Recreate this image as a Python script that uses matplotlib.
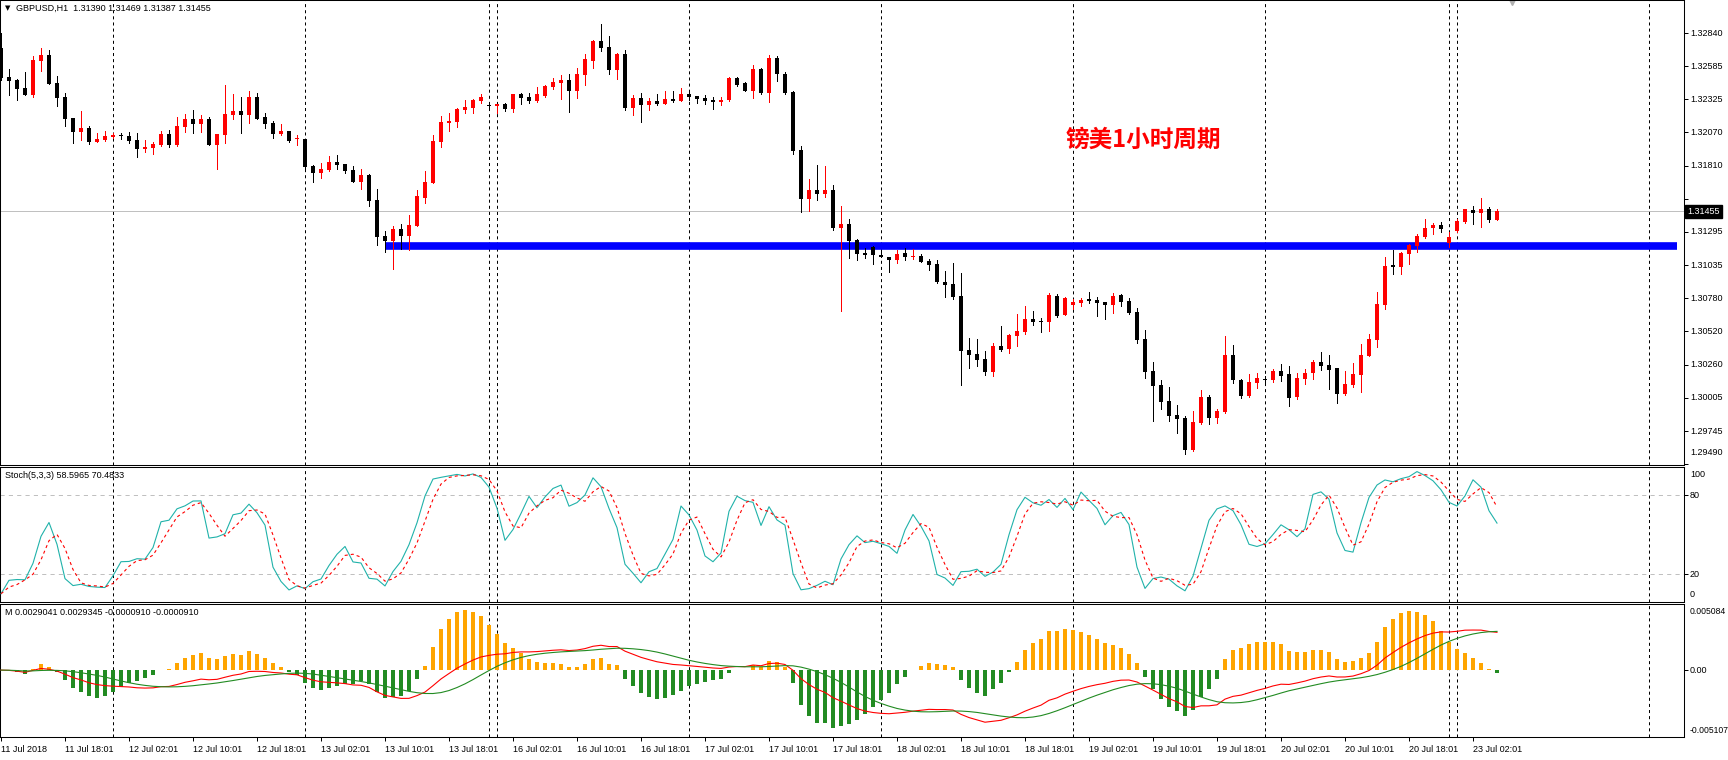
import numpy as np
import pandas as pd
import matplotlib
matplotlib.use("Agg")
import matplotlib.pyplot as plt

plt.rcParams['font.family'] = ['Liberation Sans', 'DejaVu Sans']
plt.rcParams['lines.scale_dashes'] = False
plt.rcParams['axes.linewidth'] = 0.75

# GBPUSD H1, one bar per hour from 11 Jul 2018 10:00 to 23 Jul 2018 05:00 (broker time)
opens = [
    1.32723, 1.32500, 1.32476, 1.32414, 1.32360, 1.32627, 1.32671, 1.32453, 1.32344, 1.32181,
    1.32074, 1.32103, 1.31997, 1.32010, 1.32033, 1.32048, 1.32041, 1.32010, 1.31942, 1.31950,
    1.31971, 1.32056, 1.31971, 1.32113, 1.32173, 1.32137, 1.32173, 1.31973, 1.32051, 1.32207,
    1.32235, 1.32207, 1.32344, 1.32189, 1.32142, 1.32059, 1.32080, 1.32020, 1.32017, 1.31807,
    1.31755, 1.31776, 1.31838, 1.31823, 1.31776, 1.31685, 1.31737, 1.31543, 1.31263, 1.31226,
    1.31317, 1.31265, 1.31343, 1.31561, 1.31678, 1.31997, 1.32145, 1.32152, 1.32246, 1.32261,
    1.32316, 1.32277, 1.32277, 1.32290, 1.32253, 1.32368, 1.32344, 1.32316, 1.32355, 1.32425,
    1.32456, 1.32476, 1.32393, 1.32518, 1.32627, 1.32780, 1.32733, 1.32557, 1.32679, 1.32261,
    1.32336, 1.32285, 1.32313, 1.32292, 1.32331, 1.32316, 1.32368, 1.32352, 1.32336, 1.32323,
    1.32308, 1.32323, 1.32492, 1.32453, 1.32393, 1.32562, 1.32378, 1.32648, 1.32524, 1.32383,
    1.31932, 1.31554, 1.31621, 1.31593, 1.31621, 1.31328, 1.31359, 1.31232, 1.31134, 1.31178,
    1.31115, 1.31100, 1.31079, 1.31131, 1.31100, 1.31108, 1.31071, 1.31045, 1.30908, 1.30890,
    1.30796, 1.30376, 1.30348, 1.30306, 1.30208, 1.30410, 1.30387, 1.30488, 1.30516, 1.30617,
    1.30602, 1.30597, 1.30796, 1.30651, 1.30726, 1.30742, 1.30765, 1.30768, 1.30750, 1.30729,
    1.30804, 1.30760, 1.30672, 1.30461, 1.30212, 1.30104, 1.29979, 1.29870, 1.29847, 1.29600,
    1.29808, 1.30010, 1.29849, 1.29896, 1.30337, 1.30142, 1.30021, 1.30122, 1.30150, 1.30145,
    1.30212, 1.30189, 1.30010, 1.30153, 1.30200, 1.30283, 1.30259, 1.30236, 1.30036, 1.30106,
    1.30184, 1.30332, 1.30456, 1.30729, 1.31037, 1.31024, 1.31125, 1.31188, 1.31258, 1.31328,
    1.31348, 1.31208, 1.31304, 1.31374, 1.31465, 1.31444, 1.31473, 1.31390,
]
highs = [
    1.32839, 1.32562, 1.32484, 1.32539, 1.32663, 1.32725, 1.32712, 1.32507, 1.32375, 1.32183,
    1.32235, 1.32118, 1.32064, 1.32080, 1.32064, 1.32064, 1.32072, 1.32064, 1.32010, 1.31994,
    1.32080, 1.32087, 1.32189, 1.32212, 1.32243, 1.32204, 1.32189, 1.32058, 1.32437, 1.32367,
    1.32344, 1.32391, 1.32375, 1.32220, 1.32157, 1.32134, 1.32082, 1.32048, 1.32020, 1.31815,
    1.31831, 1.31885, 1.31893, 1.31825, 1.31807, 1.31784, 1.31745, 1.31628, 1.31304, 1.31341,
    1.31356, 1.31426, 1.31621, 1.31768, 1.32049, 1.32196, 1.32220, 1.32259, 1.32321, 1.32331,
    1.32368, 1.32290, 1.32290, 1.32298, 1.32370, 1.32373, 1.32375, 1.32422, 1.32435, 1.32492,
    1.32518, 1.32523, 1.32570, 1.32679, 1.32788, 1.32912, 1.32819, 1.32687, 1.32710, 1.32360,
    1.32375, 1.32336, 1.32368, 1.32391, 1.32391, 1.32414, 1.32383, 1.32355, 1.32360, 1.32344,
    1.32344, 1.32500, 1.32503, 1.32461, 1.32596, 1.32570, 1.32671, 1.32664, 1.32539, 1.32391,
    1.31963, 1.31707, 1.31816, 1.31808, 1.31663, 1.31499, 1.31395, 1.31240, 1.31172, 1.31185,
    1.31154, 1.31102, 1.31154, 1.31167, 1.31162, 1.31123, 1.31087, 1.31079, 1.30993, 1.31053,
    1.30975, 1.30472, 1.30462, 1.30369, 1.30428, 1.30566, 1.30503, 1.30656, 1.30719, 1.30680,
    1.30628, 1.30820, 1.30812, 1.30789, 1.30773, 1.30783, 1.30828, 1.30789, 1.30752, 1.30820,
    1.30812, 1.30781, 1.30703, 1.30531, 1.30283, 1.30142, 1.30088, 1.29948, 1.29862, 1.29904,
    1.30067, 1.30028, 1.29919, 1.30487, 1.30415, 1.30150, 1.30189, 1.30200, 1.30174, 1.30228,
    1.30270, 1.30254, 1.30197, 1.30228, 1.30298, 1.30363, 1.30340, 1.30239, 1.30212, 1.30275,
    1.30425, 1.30503, 1.30827, 1.31099, 1.31156, 1.31138, 1.31203, 1.31278, 1.31395, 1.31364,
    1.31372, 1.31296, 1.31395, 1.31475, 1.31496, 1.31558, 1.31488, 1.31469,
]
lows = [
    1.32476, 1.32360, 1.32321, 1.32360, 1.32344, 1.32546, 1.32443, 1.32277, 1.32118, 1.31989,
    1.32010, 1.31978, 1.31994, 1.32004, 1.32028, 1.32017, 1.31989, 1.31880, 1.31919, 1.31903,
    1.31965, 1.31958, 1.31965, 1.32074, 1.32064, 1.32074, 1.31971, 1.31787, 1.31989, 1.32176,
    1.32067, 1.32144, 1.32173, 1.32106, 1.32028, 1.32051, 1.31997, 1.31973, 1.31768, 1.31685,
    1.31717, 1.31771, 1.31784, 1.31755, 1.31683, 1.31631, 1.31499, 1.31193, 1.31141, 1.31009,
    1.31164, 1.31156, 1.31341, 1.31522, 1.31675, 1.31958, 1.32082, 1.32113, 1.32222, 1.32222,
    1.32300, 1.32251, 1.32222, 1.32238, 1.32230, 1.32290, 1.32300, 1.32308, 1.32347, 1.32409,
    1.32331, 1.32230, 1.32339, 1.32440, 1.32572, 1.32705, 1.32526, 1.32487, 1.32246, 1.32207,
    1.32152, 1.32246, 1.32285, 1.32290, 1.32308, 1.32313, 1.32321, 1.32300, 1.32292, 1.32253,
    1.32285, 1.32316, 1.32432, 1.32391, 1.32339, 1.32368, 1.32308, 1.32472, 1.32371, 1.31904,
    1.31453, 1.31460, 1.31543, 1.31569, 1.31312, 1.30682, 1.31095, 1.31079, 1.31095, 1.31048,
    1.31100, 1.30986, 1.31056, 1.31079, 1.31087, 1.31061, 1.31001, 1.30900, 1.30791, 1.30776,
    1.30107, 1.30239, 1.30254, 1.30184, 1.30176, 1.30371, 1.30356, 1.30410, 1.30503, 1.30571,
    1.30519, 1.30527, 1.30633, 1.30648, 1.30695, 1.30721, 1.30745, 1.30643, 1.30620, 1.30667,
    1.30721, 1.30659, 1.30433, 1.30161, 1.29826, 1.29919, 1.29826, 1.29733, 1.29569, 1.29593,
    1.29803, 1.29803, 1.29811, 1.29888, 1.30122, 1.30005, 1.30010, 1.30083, 1.30122, 1.30130,
    1.30137, 1.29943, 1.29997, 1.30114, 1.30153, 1.30223, 1.30075, 1.29966, 1.30028, 1.30091,
    1.30052, 1.30330, 1.30402, 1.30697, 1.30970, 1.30970, 1.31048, 1.31141, 1.31250, 1.31281,
    1.31296, 1.31180, 1.31296, 1.31364, 1.31359, 1.31335, 1.31374, 1.31387,
]
closes = [
    1.32495, 1.32471, 1.32409, 1.32362, 1.32632, 1.32671, 1.32445, 1.32339, 1.32176, 1.32074,
    1.32103, 1.31994, 1.32017, 1.32041, 1.32048, 1.32038, 1.32004, 1.31942, 1.31955, 1.31978,
    1.32056, 1.31971, 1.32118, 1.32173, 1.32137, 1.32173, 1.31973, 1.32056, 1.32212, 1.32235,
    1.32207, 1.32344, 1.32176, 1.32137, 1.32059, 1.32080, 1.32004, 1.32025, 1.31802, 1.31755,
    1.31784, 1.31838, 1.31818, 1.31771, 1.31685, 1.31737, 1.31538, 1.31258, 1.31226, 1.31317,
    1.31265, 1.31348, 1.31574, 1.31683, 1.32002, 1.32150, 1.32157, 1.32251, 1.32266, 1.32323,
    1.32344, 1.32272, 1.32282, 1.32253, 1.32368, 1.32339, 1.32316, 1.32368, 1.32430, 1.32461,
    1.32476, 1.32393, 1.32523, 1.32640, 1.32780, 1.32728, 1.32557, 1.32679, 1.32261, 1.32336,
    1.32285, 1.32313, 1.32292, 1.32329, 1.32316, 1.32368, 1.32347, 1.32331, 1.32316, 1.32308,
    1.32323, 1.32492, 1.32440, 1.32393, 1.32562, 1.32378, 1.32648, 1.32521, 1.32378, 1.31927,
    1.31554, 1.31621, 1.31593, 1.31621, 1.31328, 1.31359, 1.31227, 1.31126, 1.31118, 1.31118,
    1.31102, 1.31079, 1.31126, 1.31102, 1.31108, 1.31064, 1.31040, 1.30905, 1.30885, 1.30791,
    1.30371, 1.30340, 1.30301, 1.30208, 1.30410, 1.30379, 1.30493, 1.30524, 1.30617, 1.30594,
    1.30594, 1.30804, 1.30641, 1.30783, 1.30750, 1.30768, 1.30760, 1.30745, 1.30729, 1.30796,
    1.30752, 1.30667, 1.30456, 1.30207, 1.30098, 1.29974, 1.29865, 1.29842, 1.29600, 1.29816,
    1.30010, 1.29849, 1.29901, 1.30337, 1.30142, 1.30021, 1.30127, 1.30158, 1.30145, 1.30212,
    1.30176, 1.30005, 1.30158, 1.30200, 1.30283, 1.30254, 1.30223, 1.30036, 1.30111, 1.30189,
    1.30337, 1.30461, 1.30734, 1.31029, 1.31024, 1.31131, 1.31193, 1.31263, 1.31325, 1.31348,
    1.31320, 1.31255, 1.31379, 1.31473, 1.31444, 1.31473, 1.31390, 1.31455,
]

# bar index of each day start (period separators)
separator_bars = [14, 38, 61, 62, 86, 110, 134, 158, 181, 182, 206]

# time axis labels, one every 8 bars
time_label_bars = list(range(0, 188, 8))
time_labels = [
    "11 Jul 2018", "11 Jul 18:01", "12 Jul 02:01", "12 Jul 10:01", "12 Jul 18:01",
    "13 Jul 02:01", "13 Jul 10:01", "13 Jul 18:01", "16 Jul 02:01", "16 Jul 10:01",
    "16 Jul 18:01", "17 Jul 02:01", "17 Jul 10:01", "17 Jul 18:01", "18 Jul 02:01",
    "18 Jul 10:01", "18 Jul 18:01", "19 Jul 02:01", "19 Jul 10:01", "19 Jul 18:01",
    "20 Jul 02:01", "20 Jul 10:01", "20 Jul 18:01", "23 Jul 02:01",
]

price_ticks = [1.32840, 1.32585, 1.32325, 1.32070, 1.31810, 1.31550, 1.31295,
               1.31035, 1.30780, 1.30520, 1.30260, 1.30005, 1.29745, 1.29490]
bid_price = 1.31455
support_level = 1.31187          # blue horizontal line
support_from_bar, support_to_bar = 48, 209.5

stoch_levels = [20, 80]
macd_top, macd_bottom = 0.005084, -0.005107

header = "GBPUSD,H1  1.31390 1.31469 1.31387 1.31455"
stoch_title = "Stoch(5,3,3) 58.5965 70.4833"
macd_title = "M 0.0029041 0.0029345 -0.0000910 -0.0000910"
note = "镑美1小时周期"

# indicators (Stochastic 5,3,3 and MACD 12,26,9 computed from the bars, MT4 style:
# SMA signal line, histogram = 3 x (MACD - signal))
cs, hs, lw_ = pd.Series(closes), pd.Series(highs), pd.Series(lows)
hh = hs.rolling(5, min_periods=1).max()
ll = lw_.rolling(5, min_periods=1).min()
stoch_main = 100 * (cs - ll).rolling(3, min_periods=1).sum() / (hh - ll).rolling(3, min_periods=1).sum()
stoch_sig = stoch_main.rolling(3, min_periods=1).mean()
macd = cs.ewm(span=12, adjust=False).mean() - cs.ewm(span=26, adjust=False).mean()
macd_sig = macd.rolling(9, min_periods=1).mean()
macd_hist = 3 * (macd - macd_sig)

# layout
W, H = 1728, 760
fig = plt.figure(figsize=(W / 100, H / 100), dpi=100)


def rect(top, bottom, left=0, right=1684):
    return [left / W, 1 - bottom / H, (right - left) / W, (bottom - top) / H]


ax_p = fig.add_axes(rect(0, 465))
ax_s = fig.add_axes(rect(467, 602))
ax_m = fig.add_axes(rect(603.5, 737))

x = np.arange(len(closes))
o, h, l, c = (np.array(v) for v in (opens, highs, lows, closes))
xlim = (-0.125, 210.375)
DASH = (0, (2.2, 2.2))
PX = 0.72

for ax in (ax_p, ax_s, ax_m):
    ax.set_xlim(*xlim)
    ax.set_facecolor("white")
    for s in separator_bars:
        ax.axvline(s, color="black", lw=PX, ls=DASH, zorder=1)

# price panel
ax_p.set_ylim(1.29481, 1.33099)
ax_p.set_xticks([])
ax_p.axhline(bid_price, color="#C0C0C0", lw=PX, zorder=0.5)
ax_p.plot([support_from_bar, support_to_bar], [support_level, support_level],
          color="#0000FF", lw=5.5, solid_capstyle="butt", zorder=2)
colors = np.where(c >= o, "#FF0000", "#000000")
ax_p.vlines(x, np.minimum(l, np.minimum(o, c)), np.maximum(h, np.maximum(o, c)),
            colors=colors, lw=PX, antialiased=False, zorder=3)
ax_p.bar(x, np.maximum(np.abs(c - o), 0.00009), bottom=np.minimum(o, c), width=0.62,
         color=colors, linewidth=0, antialiased=False, zorder=4)
ax_p.set_yticks(price_ticks)


def scale_label(ax, value, text, dy=0, size=6.5, **kw):
    ax.annotate(text, xy=(1, value), xycoords=("axes fraction", "data"),
                xytext=(4.3, dy), textcoords="offset points", va="center", ha="left",
                fontsize=size, annotation_clip=False, **kw)


for i, p in enumerate(price_ticks):
    if abs(p - bid_price) < 0.0013:
        continue
    scale_label(ax_p, p, f"{p:.5f}", dy=8 if i == len(price_ticks) - 1 else 0)
ax_p.annotate(f"{bid_price:.5f}", xy=(1, bid_price), xycoords=("axes fraction", "data"),
              xytext=(2.6, 0), textcoords="offset points", va="center", ha="left",
              fontsize=6.5, color="white", annotation_clip=False,
              bbox=dict(boxstyle="square,pad=0.25", fc="black", ec="black"))
ax_p.text(0.679, 0.70, note, transform=ax_p.transAxes, ha="center", va="center",
          fontsize=17, fontweight="bold", color="#FF0000", family=["Noto Sans CJK SC"])
ax_p.plot([0.898], [0.995], transform=ax_p.transAxes, marker="v", ms=5,
          color="#B0B0B0", clip_on=False)

# stochastic panel
ax_s.set_ylim(-0.98, 101.21)
ax_s.set_xticks([])
for lv in stoch_levels:
    ax_s.axhline(lv, color="#C0C0C0", lw=PX, ls=(0, (3, 3)), zorder=1)
ax_s.plot(x, stoch_main, color="#20B2AA", lw=0.8, zorder=3)
ax_s.plot(x, stoch_sig, color="#FF0000", lw=0.8, ls=DASH, zorder=3)
ax_s.set_yticks(stoch_levels)
scale_label(ax_s, 100, "100", dy=-4.6)
scale_label(ax_s, 80, "80")
scale_label(ax_s, 20, "20")
scale_label(ax_s, 0, "0", dy=4.8)

# MACD panel
ax_m.set_ylim(macd_bottom, macd_top)
hist_colors = np.where(macd_hist >= 0, "#FFA500", "#228B22")
ax_m.bar(x, macd_hist, width=0.4, color=hist_colors, linewidth=0, antialiased=False, zorder=2)
ax_m.plot(x, macd, color="#FF0000", lw=0.8, zorder=3)
ax_m.plot(x, macd_sig, color="#228B22", lw=0.8, zorder=3)
ax_m.set_yticks([0])
scale_label(ax_m, macd_top, f"{macd_top:.6f}", dy=-5.4, size=6.2)
scale_label(ax_m, 0, "0.00")
scale_label(ax_m, macd_bottom, f"{macd_bottom:.6f}", dy=5, size=6.2)
ax_m.set_xticks(time_label_bars)
ax_m.set_xticklabels(time_labels, fontsize=6.5)
for t in ax_m.get_xticklabels():
    t.set_ha("left")
ax_m.tick_params(axis="x", direction="out", length=3, width=PX, pad=2.5)

# right-hand price scale: tick marks only, labels are drawn above
for ax in (ax_p, ax_s, ax_m):
    ax.tick_params(axis="y", left=False, labelleft=False, right=True, labelright=False,
                   direction="out", length=3, width=PX)

# titles
fig.text(8 / W, 1 - 8.5 / H, "▼", fontsize=5, va="center", ha="center", family=["DejaVu Sans"])
fig.text(16 / W, 1 - 8.5 / H, header, fontsize=6.5, va="center", ha="left")
fig.text(5 / W, 1 - 476 / H, stoch_title, fontsize=6.5, va="center", ha="left")
fig.text(5 / W, 1 - 612.7 / H, macd_title, fontsize=6.5, va="center", ha="left")

fig.savefig("out.png", dpi=100, facecolor="white")
